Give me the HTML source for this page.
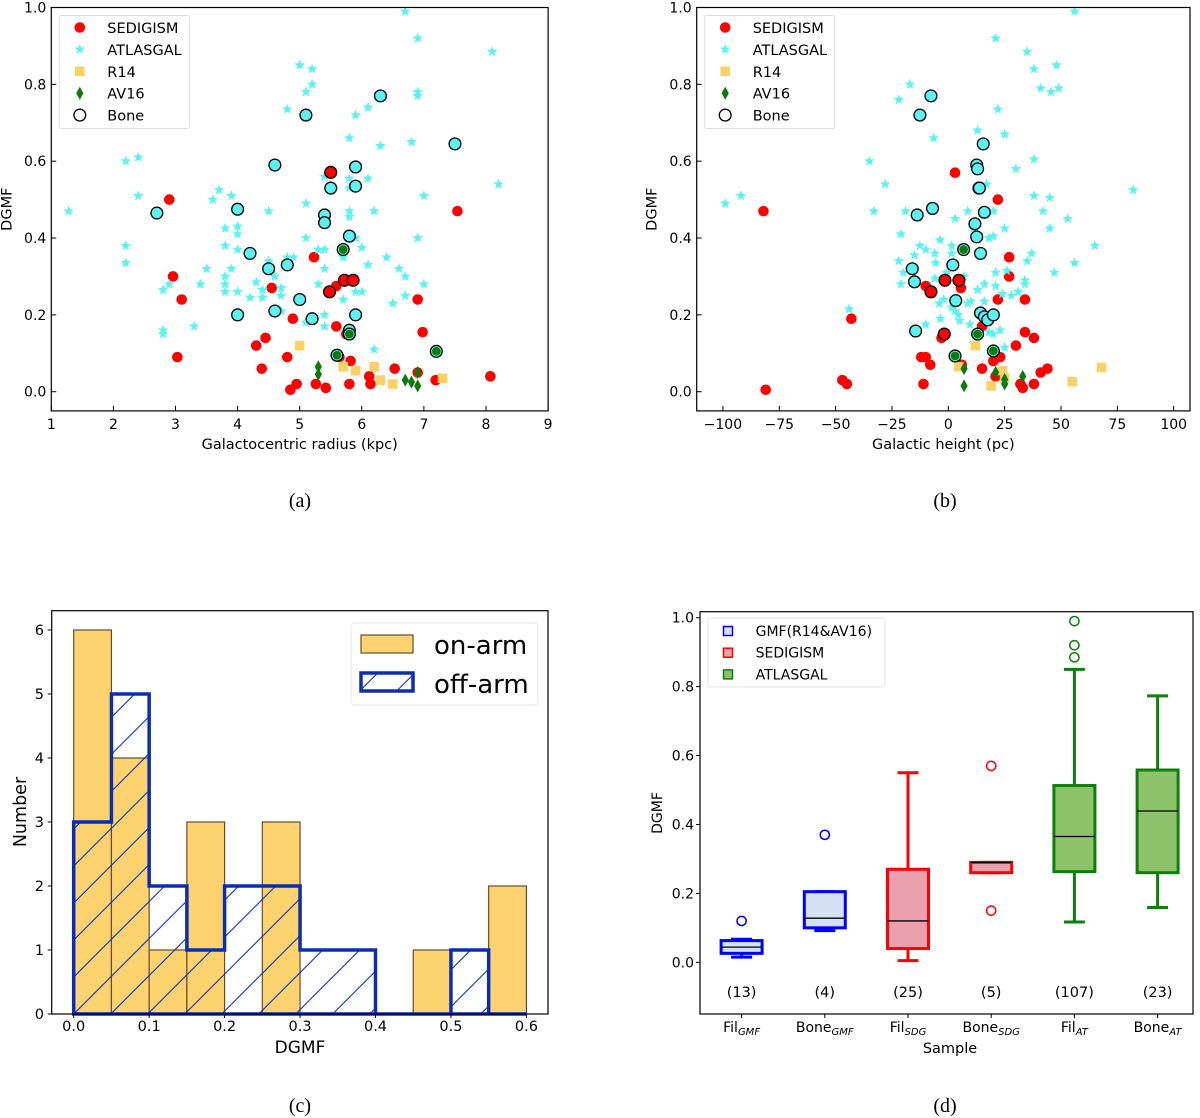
<!DOCTYPE html>
<html><head><meta charset="utf-8"><style>
html,body{margin:0;padding:0;background:#fff;}
svg{display:block;font-family:"DejaVu Sans","Liberation Sans",sans-serif;}
</style></head>
<body>
<svg id="fig" width="1200" height="1118" viewBox="0 0 1200 1118" xmlns="http://www.w3.org/2000/svg">
<defs>
<pattern id="hatch" patternUnits="userSpaceOnUse" width="37" height="37" x="73.7" y="1014">
<line x1="-2" y1="39" x2="39" y2="-2" stroke="#0b2db3" stroke-width="1.1"/>
<line x1="-5" y1="5" x2="5" y2="-5" stroke="#0b2db3" stroke-width="1.1"/>
<line x1="32" y1="42" x2="42" y2="32" stroke="#0b2db3" stroke-width="1.1"/>
</pattern>
<clipPath id="clipA"><rect x="51.3" y="7.5" width="496.8" height="403.4"/></clipPath>
<clipPath id="clipB"><rect x="696.7" y="7.5" width="493.3" height="403.4"/></clipPath>
</defs>
<g id="gA"></g>
<g id="gB"></g>
<g id="gC"></g>
<g id="gD"></g>
<text x="300" y="507" font-family="Liberation Serif, serif" font-size="20" text-anchor="middle">(a)</text>
<text x="945" y="507" font-family="Liberation Serif, serif" font-size="20" text-anchor="middle">(b)</text>
<text x="300" y="1112" font-family="Liberation Serif, serif" font-size="20" text-anchor="middle">(c)</text>
<text x="945" y="1112" font-family="Liberation Serif, serif" font-size="20" text-anchor="middle">(d)</text>
</svg>
<script>
// ---------- Panel (a) data: Galactocentric radius (kpc) vs DGMF ----------
const aSedR = [5.51,2.90,7.54,5.23,2.96,4.55,5.59,5.48,5.72,5.86,3.10,6.90,4.89,5.59,6.98,4.45,4.30,5.75,3.03,4.80,5.64,5.82,4.39,6.53,6.12,6.90,7.19,8.07,5.26,4.95,4.85,5.42,5.80,6.14];
const aSedD = [0.571,0.50,0.47,0.35,0.30,0.27,0.275,0.26,0.29,0.29,0.24,0.24,0.19,0.17,0.155,0.14,0.12,0.15,0.09,0.09,0.09,0.08,0.06,0.06,0.04,0.05,0.03,0.04,0.02,0.02,0.005,0.01,0.02,0.02];
const aAtlR = [1.28,2.2,2.4,2.4,2.2,2.2,2.8,2.9,2.8,2.8,3.3,3.4,3.5,3.6,3.7,3.9,3.8,4.0,4.0,3.8,4.0,3.9,3.8,3.8,3.8,4.0,4.2,4.3,4.4,4.4,4.5,4.5,4.6,4.7,4.7,4.7,4.8,4.9,4.8,5.0,5.2,5.2,5.1,5.1,5.1,5.1,5.3,5.4,5.4,5.4,5.3,5.4,5.4,5.8,5.9,6.1,5.8,5.8,5.8,5.8,5.9,6.0,5.7,6.1,6.2,6.3,6.4,6.1,5.9,6.0,5.7,6.5,6.7,6.6,6.7,7.0,6.9,7.0,6.8,6.9,6.9,6.9,6.7,8.1,8.2,6.2];
const aAtlD = [0.47,0.60,0.61,0.51,0.38,0.335,0.265,0.28,0.16,0.15,0.17,0.28,0.32,0.50,0.525,0.51,0.425,0.43,0.41,0.38,0.37,0.32,0.30,0.28,0.26,0.26,0.245,0.285,0.265,0.245,0.47,0.34,0.30,0.27,0.25,0.21,0.35,0.35,0.735,0.85,0.84,0.80,0.78,0.49,0.40,0.18,0.37,0.37,0.56,0.32,0.28,0.20,0.17,0.66,0.72,0.74,0.555,0.53,0.47,0.455,0.40,0.375,0.35,0.555,0.47,0.64,0.35,0.33,0.26,0.26,0.24,0.23,0.25,0.32,0.30,0.28,0.40,0.51,0.65,0.77,0.78,0.92,0.99,0.885,0.54,0.11];
const aR14R = [5.0,5.7,5.9,6.2,6.3,6.5,7.3];
const aR14D = [0.12,0.065,0.055,0.065,0.03,0.02,0.035];
const aAvR = [5.3,5.3,6.7,6.8,6.9,6.9];
const aAvD = [0.065,0.045,0.03,0.025,0.015,0.05];
const aBoneR = [2.7,4.0,4.2,4.5,4.8,4.6,5.1,6.3,7.5,5.5,5.9,5.9,5.4,5.4,5.8,5.0,4.6,4.0,5.2,5.9,5.8,5.8,5.7,5.6,7.2,5.5,5.48,5.72,5.86];
const aBoneD = [0.465,0.475,0.36,0.32,0.33,0.59,0.72,0.77,0.645,0.53,0.585,0.535,0.46,0.44,0.405,0.24,0.21,0.20,0.19,0.20,0.16,0.15,0.37,0.095,0.105,0.571,0.26,0.29,0.29];
const aBoneT = ['A','A','A','A','A','A','A','A','A','A','A','A','A','A','A','A','A','A','A','A','A','G','G','G','G','S','S','S','S'];

// ---------- Panel (b) data: Galactic height (pc) vs DGMF ----------
const bSedZ = [3,22,-82,27,27,-10,-8,-1.5,5,5.6,22,34,-43,15,34,38,-3,-2,30,-12,-10,-8,20,23,6,15,41,44,21,-47,-45,-11,32,33,38,-81];
const bSedD = [0.57,0.50,0.47,0.35,0.30,0.275,0.26,0.29,0.29,0.27,0.24,0.24,0.19,0.17,0.155,0.14,0.14,0.15,0.12,0.09,0.09,0.07,0.08,0.09,0.07,0.06,0.05,0.06,0.04,0.03,0.02,0.02,0.02,0.01,0.02,0.005];
const bAtlZ = [-99,-92,-74,-35,-28,-33,-22,-17,-6.5,-19,-21,-12.6,-10,-6,-3.6,-15,-22,-20,-21,-5.6,-6,1.5,1.5,3,-0.7,7,-4,-3.5,-10,1.5,5,9.6,8.6,10,13,13,17,8.6,11,20,18,20,25,21,22,25,30,38,35,38,48,41,45.6,49,56,82,38,45,42,53,45,65,56,47,37,35,26,21,34,34,31,28,24,21,16,13,16,23,20,18,25,-44,-2,3,4.4];
const bAtlD = [0.49,0.51,0.74,0.60,0.54,0.47,0.76,0.80,0.66,0.47,0.41,0.38,0.37,0.36,0.395,0.355,0.34,0.31,0.28,0.335,0.295,0.38,0.36,0.45,0.31,0.30,0.23,0.19,0.175,0.22,0.185,0.175,0.23,0.235,0.68,0.577,0.54,0.47,0.425,0.47,0.40,0.405,0.425,0.92,0.735,0.67,0.58,0.605,0.885,0.84,0.85,0.79,0.78,0.79,0.99,0.525,0.51,0.505,0.47,0.45,0.425,0.38,0.335,0.31,0.36,0.34,0.315,0.31,0.29,0.28,0.26,0.25,0.255,0.275,0.28,0.265,0.235,0.16,0.15,0.155,0.115,0.215,0.24,0.21,0.2];
const bR14Z = [12,4.7,24,25,19,55,68];
const bR14D = [0.12,0.065,0.055,0.035,0.015,0.026,0.063];
const bAvZ = [7,7,21,25,25,33];
const bAvD = [0.06,0.015,0.05,0.032,0.02,0.04];
const bBoneZ = [-7.7,-12.6,15.5,12.6,13,13.6,13.8,-7,-13.8,16,11.8,12.6,14.3,6.8,-16,-15,2,-1.5,4.7,-7.7,3.3,14.3,16,17.5,20,-14.5,-1.8,13,3,20];
const bBoneD = [0.77,0.72,0.645,0.59,0.58,0.53,0.53,0.477,0.46,0.467,0.437,0.403,0.36,0.37,0.32,0.286,0.33,0.29,0.29,0.26,0.237,0.205,0.195,0.187,0.2,0.158,0.15,0.15,0.093,0.106];
const bBoneT = ['A','A','A','A','A','A','A','A','A','A','A','A','A','G','A','A','A','S','S','S','A','A','A','A','A','A','S','G','G','G'];

// ---------- Panel (c) data: histogram ----------
const cBinEdges = [0,0.05,0.1,0.15,0.2,0.25,0.3,0.35,0.4,0.45,0.5,0.55,0.6];
const cOnArm = [6,4,1,3,0,3,0,0,0,1,0,2];
const cOffArm = [3,5,2,1,2,2,1,1,0,0,1,0];
const cXTicks = ['0.0','0.1','0.2','0.3','0.4','0.5','0.6'];
const cYTicks = [0,1,2,3,4,5,6];

// ---------- Panel (d) data: box plots ----------
const dCats = ['Fil','Bone','Fil','Bone','Fil','Bone'];
const dSubs = ['GMF','GMF','SDG','SDG','AT','AT'];
const dCounts = ['(13)','(4)','(25)','(5)','(107)','(23)'];
const dLow = [0.015,0.092,0.005,0.26,0.117,0.159];
const dQ1 = [0.026,0.10,0.04,0.26,0.263,0.26];
const dMed = [0.044,0.128,0.12,0.29,0.365,0.439];
const dQ3 = [0.063,0.205,0.27,0.29,0.513,0.558];
const dHigh = [0.067,0.205,0.55,0.29,0.85,0.773];
const dFliers = [[0.12],[0.37],[],[0.57,0.15],[0.99,0.92,0.885],[]];
const dGroup = ['B','B','R','R','G','G'];
const dYTicks = [0,0.2,0.4,0.6,0.8,1.0];

const NS = 'http://www.w3.org/2000/svg';
function mk(parent, tag, attrs){ const e=document.createElementNS(NS,tag); for(const k in attrs) e.setAttribute(k,attrs[k]); parent.appendChild(e); return e; }
function txt(parent, x, y, s, size, anchor, extra){ const t=mk(parent,'text',Object.assign({x:x,y:y,'font-size':size,'text-anchor':anchor||'middle',fill:'#000'},extra||{})); t.textContent=s; return t; }
function starPath(cx,cy,R){ const r=R*0.42; let d=''; for(let i=0;i<10;i++){ const rr=i%2?r:R; const a=-Math.PI/2+i*Math.PI/5; d+=(i?'L':'M')+(cx+rr*Math.cos(a)).toFixed(2)+','+(cy+rr*Math.sin(a)).toFixed(2);} return d+'Z'; }

const COL = {red:'#ff0000', cyan:'#5cf2f2', r14:'#fbd166', green:'#0a7a0a'};

function scatterPanel(g, box, xs, ys, data, xticks, xtl, xlabel, clip){
  const [x0,x1,y0,y1]=box;
  const mg=mk(g,'g',{'clip-path':'url(#'+clip+')'});
  
  
  data.sed[0].forEach((v,i)=>{ const c=mk(mg,'circle',{cx:xs(v),cy:ys(data.sed[1][i]),r:5.3,fill:COL.red});
    
     });
  data.atl[0].forEach((v,i)=>{ const p=mk(mg,'path',{d:starPath(xs(v),ys(data.atl[1][i]),5.6),fill:COL.cyan});
    
     });
  data.r14[0].forEach((v,i)=>{ const p=mk(mg,'rect',{x:xs(v)-4.8,y:ys(data.r14[1][i])-4.8,width:9.6,height:9.6,fill:COL.r14});
    
     });
  data.av[0].forEach((v,i)=>{ const cx=xs(v), cy=ys(data.av[1][i]); const p=mk(mg,'path',{d:`M${cx},${cy-6.5}L${cx+3.6},${cy}L${cx},${cy+6.5}L${cx-3.6},${cy}Z`,fill:COL.green});
    
     });
  data.bone[0].forEach((v,i)=>{ const t=data.bone[2][i]; const f=t==='S'?COL.red:(t==='G'?COL.green:COL.cyan);
    const cx=xs(v), cy=ys(data.bone[1][i]);
    const c=mk(mg,'circle',{cx:cx,cy:cy,r:5.9,fill:t==='G'?COL.cyan:f,stroke:'#000','stroke-width':1.3});
    
    
    if(t==='G'){ mk(mg,'circle',{cx:cx,cy:cy,r:4.3,fill:COL.green}); } });
  const fr=mk(g,'rect',{x:x0,y:y0,width:x1-x0,height:y1-y0,fill:'none',stroke:'#000','stroke-width':1.2});
  
  
  xticks.forEach((v,i)=>{ const x=xs(v); mk(g,'line',{x1:x,x2:x,y1:y1,y2:y1-5,stroke:'#000','stroke-width':1});
    const t=txt(g,x,429,xtl[i],14,'middle');
    
     });
  [0,0.2,0.4,0.6,0.8,1.0].forEach(v=>{ const y=ys(v); mk(g,'line',{x1:x0,x2:x0+5,y1:y,y2:y,stroke:'#000','stroke-width':1});
    const t=txt(g,x0-5,y+5,v.toFixed(1),14,'end');
    
     });
  const xl=txt(g,(x0+x1)/2,449,xlabel,14.5,'middle');
  
  
  const yl=txt(g,0,0,'DGMF',14.5,'middle',{transform:`translate(${x0-40},${(y0+y1)/2}) rotate(-90)`});
  
  
  const lx=x0+8, ly=y0+8;
  const lg=mk(g,'g',{});
  
  
  mk(lg,'rect',{x:lx,y:ly,width:130,height:113,fill:'#fff',stroke:'#ddd','stroke-width':1,rx:2});
  const names=['SEDIGISM','ATLASGAL','R14','AV16','Bone']; const mx=lx+20.5;
  names.forEach((n,i)=>{ const yy=ly+12+i*21.9;
    if(i===0) mk(lg,'circle',{cx:mx,cy:yy,r:5.3,fill:COL.red});
    if(i===1) mk(lg,'path',{d:starPath(mx,yy,5.6),fill:COL.cyan});
    if(i===2) mk(lg,'rect',{x:mx-4.8,y:yy-4.8,width:9.6,height:9.6,fill:COL.r14});
    if(i===3) mk(lg,'path',{d:`M${mx},${yy-6.5}L${mx+3.6},${yy}L${mx},${yy+6.5}L${mx-3.6},${yy}Z`,fill:COL.green});
    if(i===4) mk(lg,'circle',{cx:mx,cy:yy,r:5.9,fill:'none',stroke:'#000','stroke-width':1.3});
    const t=txt(lg,lx+48,yy+5.5,n,14.5,'start');
    
     });
}
const yA = v => 391.7 - v*384.2;
scatterPanel(document.getElementById('gA'), [51.3,548.1,7.5,410.9], v=>51.3+(v-1)*62.1, yA,
  {sed:[aSedR,aSedD], atl:[aAtlR,aAtlD], r14:[aR14R,aR14D], av:[aAvR,aAvD], bone:[aBoneR,aBoneD,aBoneT]},
  [1,2,3,4,5,6,7,8,9], ['1','2','3','4','5','6','7','8','9'], 'Galactocentric radius (kpc)','clipA');
scatterPanel(document.getElementById('gB'), [696.7,1190,7.5,410.9], v=>948.3+v*2.254, yA,
  {sed:[bSedZ,bSedD], atl:[bAtlZ,bAtlD], r14:[bR14Z,bR14D], av:[bAvZ,bAvD], bone:[bBoneZ,bBoneD,bBoneT]},
  [-100,-75,-50,-25,0,25,50,75,100], ['\u2212100','\u221275','\u221250','\u221225','0','25','50','75','100'], 'Galactic height (pc)','clipB');

(function(){
  const g=document.getElementById('gC');
  const xc=v=>73.7+v*754.5, yc=v=>1014-v*64;
  cOnArm.forEach((n,i)=>{ if(!n) return; const xa=xc(cBinEdges[i]), xb=xc(cBinEdges[i+1]);
    const r=mk(g,'rect',{x:xa,y:yc(n),width:xb-xa,height:yc(0)-yc(n),fill:'#fcd36e',stroke:'#6b4a2e','stroke-width':1.2});
    
     });
  let d='M'+xc(0)+','+yc(0);
  cOffArm.forEach((n,i)=>{ d+='L'+xc(cBinEdges[i])+','+yc(n)+'L'+xc(cBinEdges[i+1])+','+yc(n); });
  d+='L'+xc(cBinEdges[cBinEdges.length-1])+','+yc(0)+'Z';
  const hp=mk(g,'path',{d:d,fill:'url(#hatch)',stroke:'none'});
  
  
  const op=mk(g,'path',{d:d,fill:'none',stroke:'#0b2db3','stroke-width':3.5,'stroke-linejoin':'miter'});
  
  
  const fr=mk(g,'rect',{x:51.7,y:610.7,width:496.3,height:403.3,fill:'none',stroke:'#000','stroke-width':1.2});
  
  
  cXTicks.forEach((s,i)=>{ const x=xc(i*0.1); mk(g,'line',{x1:x,x2:x,y1:1014,y2:1018,stroke:'#000'});
    const t=txt(g,x,1031,s,14.5,'middle');
    
     });
  cYTicks.forEach(v=>{ const y=yc(v); mk(g,'line',{x1:47.7,x2:51.7,y1:y,y2:y,stroke:'#000'});
    const t=txt(g,44,y+5,String(v),14.5,'end');
    
     });
  const xl=txt(g,300,1053,'DGMF',17,'middle');
  
  
  const yl=txt(g,0,0,'Number',17.5,'middle',{transform:'translate(26,812) rotate(-90)'});
  
  
  const lg=mk(g,'g',{});
  
  
  mk(lg,'rect',{x:351,y:623,width:187,height:82,fill:'#fff',stroke:'#e6e6e6','stroke-width':1,rx:3});
  mk(lg,'rect',{x:361,y:635,width:52,height:18,fill:'#fcd36e',stroke:'#6b4a2e','stroke-width':1.2});
  mk(lg,'rect',{x:361,y:673,width:52,height:18,fill:'url(#hatch)',stroke:'#0b2db3','stroke-width':3.5});
  const t1=txt(lg,434,654,'on-arm',26,'start');
  
  
  const t2=txt(lg,434,693,'off-arm',26,'start');
  
  
})();

(function(){
  const g=document.getElementById('gD');
  const yd=v=>962.3-v*344.6, xd=i=>741.6+i*83.2;
  const pal={B:{s:'#0000ff',f:'#d4e0f4'},R:{s:'#ff0000',f:'#eba0ae'},G:{s:'#0c7f0c',f:'#8ec26a'}};
  dCats.forEach((c,i)=>{ const p=pal[dGroup[i]], x=xd(i), hw=20.5, cw=10.5;
    const bg=mk(g,'g',{});
    
    
    mk(bg,'line',{x1:x,x2:x,y1:yd(dLow[i]),y2:yd(dQ1[i]),stroke:p.s,'stroke-width':3});
    mk(bg,'line',{x1:x,x2:x,y1:yd(dHigh[i]),y2:yd(dQ3[i]),stroke:p.s,'stroke-width':3});
    mk(bg,'line',{x1:x-cw,x2:x+cw,y1:yd(dLow[i]),y2:yd(dLow[i]),stroke:p.s,'stroke-width':3});
    mk(bg,'line',{x1:x-cw,x2:x+cw,y1:yd(dHigh[i]),y2:yd(dHigh[i]),stroke:p.s,'stroke-width':3});
    mk(bg,'rect',{x:x-hw,y:yd(dQ3[i]),width:2*hw,height:Math.max(0.5,yd(dQ1[i])-yd(dQ3[i])),fill:p.f,stroke:p.s,'stroke-width':3});
    mk(bg,'line',{x1:x-hw,x2:x+hw,y1:yd(dMed[i]),y2:yd(dMed[i]),stroke:'#000','stroke-width':1.3});
    dFliers[i].forEach(v=>{ const f=mk(bg,'circle',{cx:x,cy:yd(v),r:4.6,fill:'none',stroke:p.s,'stroke-width':1.5});
      
       });
    const ct=txt(g,x,997,dCounts[i],14.5,'middle');
    
    
    mk(g,'line',{x1:x,x2:x,y1:1014,y2:1018,stroke:'#000'});
    const tl=mk(g,'text',{x:x,y:1032,'font-size':14,'text-anchor':'middle'});
    
    
    tl.appendChild(document.createTextNode(c));
    const ts=mk(tl,'tspan',{'font-size':10,'font-style':'italic',dy:3});
    ts.textContent=dSubs[i];
  });
  const fr=mk(g,'rect',{x:700,y:611.7,width:493,height:402.3,fill:'none',stroke:'#000','stroke-width':1.2});
  
  
  dYTicks.forEach(v=>{ const y=yd(v); mk(g,'line',{x1:696,x2:700,y1:y,y2:y,stroke:'#000'});
    const t=txt(g,694,y+5,v.toFixed(1),14,'end');
    
     });
  const xl=txt(g,950,1053,'Sample',14.5,'middle');
  
  
  const yl=txt(g,0,0,'DGMF',14,'middle',{transform:'translate(662,813) rotate(-90)'});
  
  
  const lg=mk(g,'g',{});
  
  
  mk(lg,'rect',{x:708,y:618,width:177,height:69,fill:'#fff',stroke:'#e2e2e2','stroke-width':1,rx:2});
  const ln=['GMF(R14&AV16)','SEDIGISM','ATLASGAL'], lk=['B','R','G'];
  ln.forEach((n,i)=>{ const yy=631+i*21.7, p=pal[lk[i]];
    mk(lg,'rect',{x:723.5,y:yy-4.5,width:9,height:9,fill:p.f,stroke:p.s,'stroke-width':1.5});
    const t=txt(lg,755.6,yy+5,n,14,'start');
    
     });
})();
</script>
</body></html>
